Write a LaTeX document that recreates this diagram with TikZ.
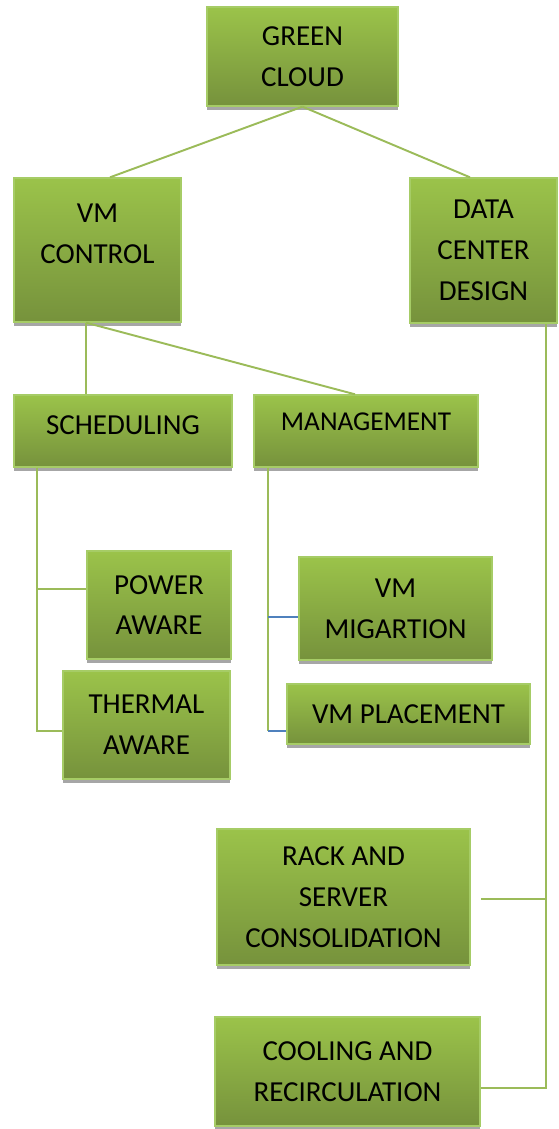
\documentclass[tikz,border=0pt]{standalone}
\usepackage{fontspec}
\setmainfont{Carlito}
\usetikzlibrary{shadows}
\definecolor{boxtop}{RGB}{155,195,74}
\definecolor{boxbottom}{RGB}{118,146,60}
\definecolor{boxedge}{RGB}{166,204,102}
\definecolor{linkgreen}{RGB}{155,187,89}
\definecolor{linkblue}{RGB}{79,129,189}
\tikzset{
	box/.style={draw=boxedge, line width=0.8pt, top color=boxtop, bottom color=boxbottom,
		align=center, inner sep=0pt, font=\fontsize{16.5}{23.2}\selectfont,
		drop shadow={shadow xshift=0pt, shadow yshift=-0.08cm, fill=black!35, opacity=1}},
	boxtext/.style={align=center, inner sep=0pt, font=\fontsize{16.5}{23.2}\selectfont},
	link/.style={draw=linkgreen, line width=1.1pt},
	bluelink/.style={draw=linkblue, line width=0.8pt}
}
\begin{document}
\begin{tikzpicture}[x=0.02cm, y=-0.02cm]
	\useasboundingbox (0,0) rectangle (558,1129);
	\node[box, minimum width=3.82cm, minimum height=1.98cm] (green) at (302.5,56.5) {GREEN\\CLOUD};
	\node[box, minimum width=3.34cm, minimum height=2.88cm] (vmcontrol) at (97.5,250) {};
	\node[boxtext] (vmcontroltext) at (97.5,234) {VM\\CONTROL};
	\node[box, minimum width=2.94cm, minimum height=2.90cm] (datacenter) at (483.5,250.5) {DATA\\CENTER\\DESIGN};
	\node[box, minimum width=4.36cm, minimum height=1.44cm] (scheduling) at (123,431) {};
	\node[boxtext] (schedulingtext) at (123,425) {SCHEDULING};
	\node[box, minimum width=4.48cm, minimum height=1.44cm] (management) at (366,431) {};
	\node[boxtext, font=\fontsize{15.5}{23.2}\selectfont] (managementtext) at (366,422) {MANAGEMENT};
	\node[box, minimum width=2.88cm, minimum height=2.16cm] (power) at (159,605) {POWER\\AWARE};
	\node[box, minimum width=3.34cm, minimum height=2.16cm] (thermal) at (146.5,725) {THERMAL\\AWARE};
	\node[box, minimum width=3.86cm, minimum height=2.06cm] (migration) at (395.5,608.5) {VM\\MIGARTION};
	\node[box, minimum width=4.86cm, minimum height=1.20cm] (placement) at (408.5,714) {VM PLACEMENT};
	\node[box, minimum width=5.06cm, minimum height=2.72cm] (rack) at (343.5,897) {RACK AND\\SERVER\\CONSOLIDATION};
	\node[box, minimum width=5.30cm, minimum height=2.18cm] (cooling) at (347.5,1071.5) {COOLING AND\\RECIRCULATION};

	\draw[link] (green.south) -- ([xshift=0.25cm]vmcontrol.north);
	\draw[link] (green.south) -- ([xshift=-0.27cm]datacenter.north);
	\draw[link] ([xshift=-0.23cm]vmcontrol.south) -- ([xshift=-0.23cm]vmcontrol.south |- scheduling.north);
	\draw[link] ([xshift=-0.23cm]vmcontrol.south) -- ([xshift=-0.22cm]management.north);

	\coordinate (schedtrunk) at ([xshift=0.48cm]scheduling.south west);
	\draw[link] (schedtrunk) |- ([yshift=0.32cm]power.west);
	\draw[link] (schedtrunk) |- ([yshift=-0.12cm]thermal.west);

	\coordinate (mgmttrunk) at ([xshift=0.3cm]management.south west);
	\coordinate (migin) at ([yshift=-0.17cm]migration.west);
	\coordinate (placein) at ([yshift=-0.34cm]placement.west);
	\draw[link] (mgmttrunk) -- (mgmttrunk |- placein);
	\draw[bluelink] (mgmttrunk |- migin) -- (migin);
	\draw[bluelink] (mgmttrunk |- placein) -- (placein);

	\coordinate (dctrunk) at ([xshift=1.25cm]datacenter.south);
	\coordinate (rackin) at ([xshift=0.2cm,yshift=-0.04cm]rack.east);
	\coordinate (coolin) at ([yshift=-0.33cm]cooling.east);
	\draw[link] (dctrunk) |- (coolin);
	\draw[link] (dctrunk |- rackin) -- (rackin);
\end{tikzpicture}
\end{document}
